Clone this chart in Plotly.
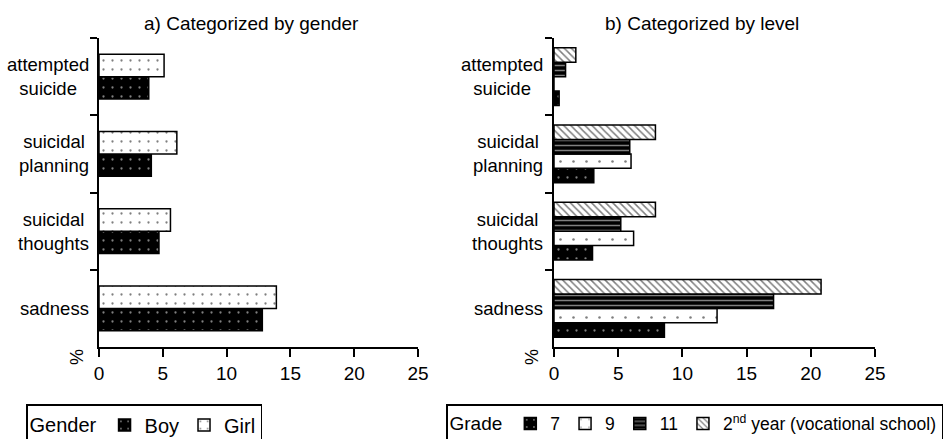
import plotly.graph_objects as go

# ---------------- data ----------------
categories = ["attempted suicide", "suicidal planning", "suicidal thoughts", "sadness"]
category_labels = ["attempted<br>suicide", "suicidal<br>planning", "suicidal<br>thoughts", "sadness"]

boy = [3.9, 4.1, 4.7, 12.8]
girl = [5.1, 6.1, 5.6, 13.9]

grade7 = [0.4, 3.1, 3.0, 8.6]
grade9 = [0.0, 6.0, 6.2, 12.7]
grade11 = [0.9, 5.9, 5.2, 17.1]
voc2 = [1.7, 7.9, 7.9, 20.8]

x_ticks = [0, 5, 10, 15, 20, 25]

FONT = "Arial, Liberation Sans, sans-serif"
LINE = dict(color="black", width=1.5)

fig = go.Figure()

# ---------- panel a ----------
wa = 0.29
fig.add_trace(go.Bar(
    y=categories, x=boy, orientation="h", name="Boy", width=wa, offset=0,
    marker=dict(color="black", line=LINE,
                pattern=dict(shape=".", fgcolor="white", bgcolor="black", size=9, solidity=0.05)),
    xaxis="x", yaxis="y", legend="legend"))
fig.add_trace(go.Bar(
    y=categories, x=girl, orientation="h", name="Girl", width=wa, offset=-wa,
    marker=dict(color="white", line=LINE,
                pattern=dict(shape=".", fgcolor="black", bgcolor="white", size=9, solidity=0.05)),
    xaxis="x", yaxis="y", legend="legend"))

# ---------- panel b ----------
wb = 0.187
fig.add_trace(go.Bar(
    y=categories, x=grade7, orientation="h", name="7", width=wb, offset=wb,
    marker=dict(color="black", line=LINE,
                pattern=dict(shape=".", fgcolor="white", bgcolor="black", size=9, solidity=0.05)),
    xaxis="x2", yaxis="y2", legend="legend2"))
fig.add_trace(go.Bar(
    y=categories, x=grade9, orientation="h", name="9", width=wb, offset=0,
    marker=dict(color="white", line=LINE,
                pattern=dict(shape=".", fgcolor="black", bgcolor="white", size=13, solidity=0.03)),
    xaxis="x2", yaxis="y2", legend="legend2"))
fig.add_trace(go.Bar(
    y=categories, x=grade11, orientation="h", name="11", width=wb, offset=-wb,
    marker=dict(color="black", line=LINE,
                pattern=dict(shape="-", fgcolor="white", bgcolor="black", size=5, solidity=0.3)),
    xaxis="x2", yaxis="y2", legend="legend2"))
fig.add_trace(go.Bar(
    y=categories, x=voc2, orientation="h", name="2<sup>nd</sup> year (vocational school)",
    width=wb, offset=-2 * wb,
    marker=dict(color="white", line=LINE,
                pattern=dict(shape="\\", fgcolor="black", bgcolor="white", size=5, solidity=0.3)),
    xaxis="x2", yaxis="y2", legend="legend2"))

W, H = 943, 439
ydom = [1 - 347 / H, 1 - 38 / H]

xcommon = dict(range=[0, 25], tickvals=x_ticks, showline=True, linecolor="black", linewidth=2,
               ticks="outside", ticklen=8, tickwidth=2, tickcolor="black",
               showgrid=False, zeroline=False, tickfont=dict(size=19, color="black"))
ycommon = dict(type="category", categoryorder="array", categoryarray=categories,
               autorange="reversed", showticklabels=False, showline=True, linecolor="black",
               linewidth=2, ticks="outside", ticklen=7, tickwidth=2, tickcolor="black",
               tickson="boundaries", showgrid=False, zeroline=False, domain=ydom)

annotations = []
for cat, lab in zip(categories, category_labels):
    annotations.append(dict(xref="x domain", yref="y", x=0, y=cat, text=lab, showarrow=False,
                            xanchor="right", xshift=-8, align="center",
                            font=dict(size=18.5, color="black")))
    annotations.append(dict(xref="x2 domain", yref="y2", x=0, y=cat, text=lab, showarrow=False,
                            xanchor="right", xshift=-9, align="center",
                            font=dict(size=18.5, color="black")))

annotations += [
    dict(xref="paper", yref="paper", x=251 / W, y=1 - 23 / H, text="a) Categorized by gender",
         showarrow=False, xanchor="center", yanchor="middle", font=dict(size=19, color="black")),
    dict(xref="paper", yref="paper", x=702 / W, y=1 - 23 / H, text="b) Categorized by level",
         showarrow=False, xanchor="center", yanchor="middle", font=dict(size=19, color="black")),
    dict(xref="paper", yref="paper", x=77 / W, y=1 - 357 / H, text="%", textangle=-90,
         showarrow=False, xanchor="center", yanchor="middle", font=dict(size=18, color="black")),
    dict(xref="paper", yref="paper", x=532 / W, y=1 - 357 / H, text="%", textangle=-90,
         showarrow=False, xanchor="center", yanchor="middle", font=dict(size=18, color="black")),
]

legend_common = dict(orientation="h", yanchor="top", y=1 - 404 / H, xanchor="left",
                     bordercolor="black", borderwidth=1.5, bgcolor="white", itemwidth=30)

fig.update_layout(
    width=W, height=H,
    margin=dict(l=0, r=0, t=0, b=0, autoexpand=False),
    paper_bgcolor="white", plot_bgcolor="white",
    font=dict(family=FONT, color="black"),
    barmode="overlay",
    xaxis=dict(domain=[99 / W, 418 / W], anchor="y", **xcommon),
    yaxis=dict(anchor="x", **ycommon),
    xaxis2=dict(domain=[554 / W, 875 / W], anchor="y2", **xcommon),
    yaxis2=dict(anchor="x2", **ycommon),
    legend=dict(x=26 / W, font=dict(size=20, color="black"),
                title=dict(text="Gender", side="left", font=dict(size=20, color="black")),
                **legend_common),
    legend2=dict(x=446 / W, font=dict(size=17.5, color="black"),
                 title=dict(text="Grade", side="left", font=dict(size=19, color="black")),
                 **legend_common),
    annotations=annotations,
    showlegend=True,
)

fig.write_html("out.html", config={"displayModeBar": False},
               post_script="document.body.style.margin='0px';document.body.style.overflow='hidden';")
